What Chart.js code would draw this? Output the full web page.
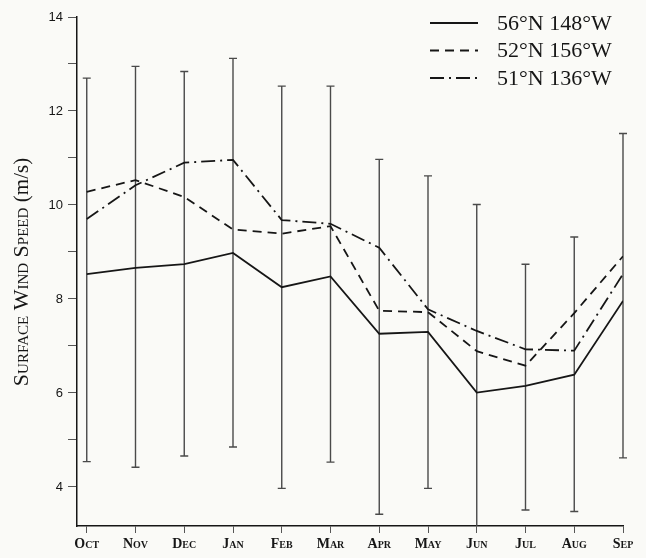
<!DOCTYPE html>
<html>
<head>
<meta charset="utf-8">
<script src="https://cdn.jsdelivr.net/npm/chart.js@4.4.1/dist/chart.umd.min.js"></script>
<style>
  html, body { margin: 0; padding: 0; background: #fafaf7; }
  #wrap { position: relative; width: 646px; height: 558px; }
</style>
</head>
<body>
<div id="wrap"><canvas id="chart"></canvas></div>
<script>
// monthly mean surface wind speed (m/s), Oct -> Sep
const months = ['Oct', 'Nov', 'Dec', 'Jan', 'Feb', 'Mar', 'Apr', 'May', 'Jun', 'Jul', 'Aug', 'Sep'];
const stationLabels = ['56°N 148°W', '52°N 156°W', '51°N 136°W'];
const wind56N148W = [8.53, 8.66, 8.74, 8.98, 8.25, 8.48, 7.26, 7.30, 6.01, 6.15, 6.39, 7.96];
const wind52N156W = [10.28, 10.53, 10.17, 9.48, 9.39, 9.55, 7.75, 7.72, 6.89, 6.58, 7.70, 8.91];
const wind51N136W = [9.70, 10.42, 10.90, 10.96, 9.68, 9.60, 9.09, 7.78, 7.32, 6.93, 6.90, 8.53];
// whiskers
const errHigh = [12.70, 12.95, 12.84, 13.12, 12.53, 12.53, 10.97, 10.62, 10.01, 8.74, 9.32, 11.52];
const errLow = [4.54, 4.42, 4.66, 4.85, 3.97, 4.53, 3.42, 3.97, 3.00, 3.51, 3.48, 4.62];

const toPoints = arr => arr.map((v, i) => ({ x: i, y: v }));

const ink = '#161616';
const serif = "'Liberation Serif', 'Times New Roman', serif";

const errorBars = {
  id: 'errorBars',
  beforeDatasetsDraw(chart) {
    const { ctx, chartArea, scales: { x, y } } = chart;
    ctx.save();
    // clip only at the bottom (Jun whisker runs into the axis)
    ctx.beginPath();
    ctx.rect(0, chartArea.top - 5, chart.width, chartArea.bottom - chartArea.top + 5);
    ctx.clip();
    ctx.strokeStyle = '#4a4a4a';
    ctx.lineWidth = 1.4;
    months.forEach((m, i) => {
      const px = x.getPixelForValue(i);
      const top = y.getPixelForValue(errHigh[i]);
      const bot = y.getPixelForValue(errLow[i]);
      ctx.beginPath();
      ctx.moveTo(px, top);
      ctx.lineTo(px, bot);
      ctx.moveTo(px - 4, top);
      ctx.lineTo(px + 4, top);
      ctx.moveTo(px - 4, bot);
      ctx.lineTo(px + 4, bot);
      ctx.stroke();
    });
    ctx.restore();
  }
};

const sideText = {
  id: 'sideText',
  afterDraw(chart) {
    const ctx = chart.ctx;
    ctx.save();
    // legend, top right
    chart.data.datasets.forEach((ds, i) => {
      const ly = 23 + i * 27.5;
      ctx.strokeStyle = ink;
      ctx.lineWidth = 1.8;
      ctx.setLineDash(ds.borderDash || []);
      ctx.beginPath();
      ctx.moveTo(430, ly);
      ctx.lineTo(478, ly);
      ctx.stroke();
      ctx.setLineDash([]);
      ctx.fillStyle = ink;
      ctx.font = '22px ' + serif;
      ctx.textBaseline = 'middle';
      ctx.textAlign = 'left';
      ctx.fillText(ds.label, 497, ly + 1);
    });
    // y axis title: small caps words + plain unit
    const part1 = 'Surface Wind Speed ';
    const part2 = '(m/s)';
    const f1 = 'small-caps 22px ' + serif;
    const f2 = '21px ' + serif;
    ctx.font = f1;
    const w1 = ctx.measureText(part1).width;
    ctx.font = f2;
    const w2 = ctx.measureText(part2).width;
    ctx.translate(28, 272);
    ctx.rotate(-Math.PI / 2);
    ctx.textBaseline = 'alphabetic';
    ctx.textAlign = 'left';
    const start = -(w1 + w2) / 2;
    ctx.font = f1;
    ctx.fillText(part1, start, 0);
    ctx.font = f2;
    ctx.fillText(part2, start + w1, 0);
    ctx.restore();
  }
};

new Chart(document.getElementById('chart'), {
  type: 'line',
  data: {
    datasets: [
      { label: stationLabels[0], data: toPoints(wind56N148W), borderDash: [] },
      { label: stationLabels[1], data: toPoints(wind52N156W), borderDash: [9, 6] },
      { label: stationLabels[2], data: toPoints(wind51N136W), borderDash: [14, 5, 2, 5] }
    ].map(ds => Object.assign(ds, {
      borderColor: ink,
      borderWidth: 1.8,
      pointRadius: 0,
      tension: 0,
      fill: false
    }))
  },
  options: {
    responsive: true,
    maintainAspectRatio: false,
    animation: false,
    layout: { padding: { top: 17, right: 23, left: 0, bottom: 0 } },
    plugins: {
      legend: { display: false },
      tooltip: { enabled: false }
    },
    scales: {
      x: {
        type: 'linear',
        min: -0.2,
        max: 11,
        afterFit: s => { s.height = 32; },
        border: { display: true, color: ink, width: 1.5 },
        grid: { drawOnChartArea: false, drawTicks: true, tickLength: 7, color: '#555', lineWidth: 1 },
        ticks: {
          stepSize: 1,
          includeBounds: false,
          autoSkip: false,
          maxRotation: 0,
          padding: 3,
          color: ink,
          font: { family: serif, size: 14, weight: 'small-caps bold' },
          callback: v => months[v]
        }
      },
      y: {
        min: 3.17,
        max: 14,
        afterFit: s => { s.width = 77; },
        border: { display: true, color: ink, width: 1.5 },
        grid: { drawOnChartArea: false, drawTicks: true, tickLength: 9, color: '#555', lineWidth: 1 },
        ticks: {
          stepSize: 1,
          includeBounds: false,
          padding: 5,
          color: ink,
          font: { family: "'Liberation Sans', Arial, sans-serif", size: 13 },
          callback: v => (v % 2 === 0 ? String(v) : '')
        }
      }
    }
  },
  plugins: [errorBars, sideText]
});
</script>
</body>
</html>
